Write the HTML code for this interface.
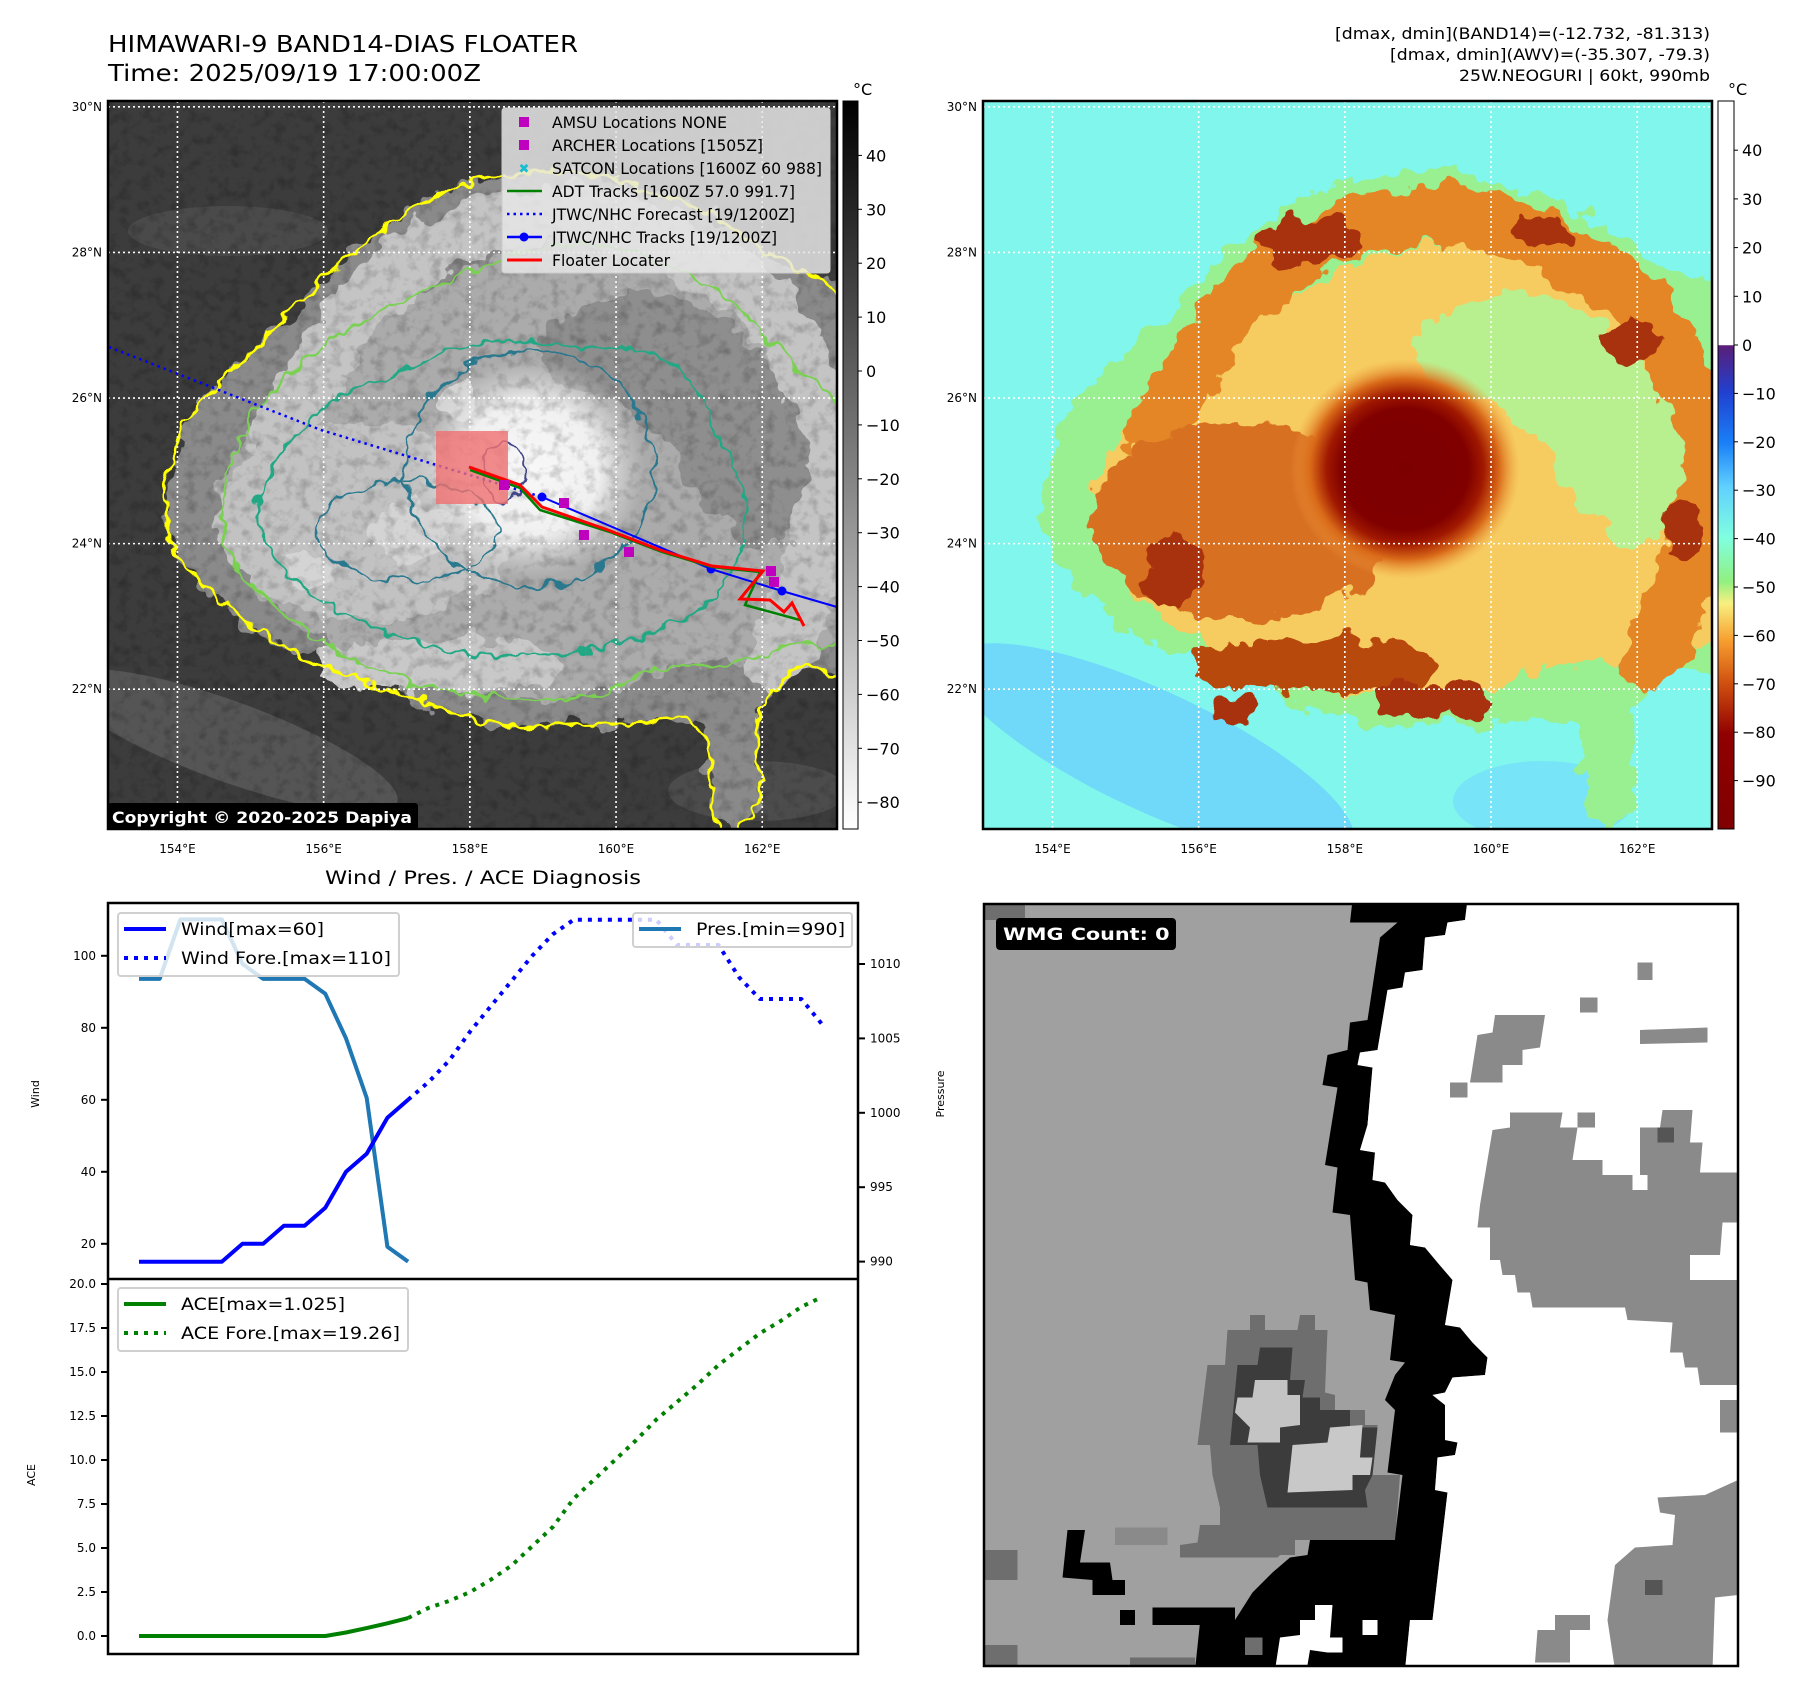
<!DOCTYPE html>
<html><head><meta charset="utf-8"><title>HIMAWARI-9 BAND14 Floater</title>
<style>
html,body{margin:0;padding:0;background:#fff;}
body{width:1801px;height:1690px;overflow:hidden;font-family:"DejaVu Sans","Liberation Sans",sans-serif;}
svg text{font-family:"DejaVu Sans","Liberation Sans",sans-serif;}
</style></head>
<body>
<svg id="page" xmlns="http://www.w3.org/2000/svg" width="1801" height="1690" viewBox="0 0 1801 1690">
<defs>
  <filter id="rough" x="-10%" y="-10%" width="120%" height="120%">
    <feTurbulence type="fractalNoise" baseFrequency="0.035" numOctaves="3" seed="7" result="n"/>
    <feDisplacementMap in="SourceGraphic" in2="n" scale="34" xChannelSelector="R" yChannelSelector="G"/>
  </filter>
  <filter id="rough2" x="-10%" y="-10%" width="120%" height="120%">
    <feTurbulence type="fractalNoise" baseFrequency="0.06" numOctaves="2" seed="3" result="n"/>
    <feDisplacementMap in="SourceGraphic" in2="n" scale="18" xChannelSelector="R" yChannelSelector="G"/>
  </filter>
  <filter id="grain" x="0" y="0" width="100%" height="100%">
    <feTurbulence type="fractalNoise" baseFrequency="0.09" numOctaves="3" seed="11"/>
    <feColorMatrix type="matrix" values="0 0 0 0 0  0 0 0 0 0  0 0 0 0 0  1.6 0 0 0 -0.75"/>
  </filter>
  <radialGradient id="coreGray">
    <stop offset="0" stop-color="#f8f8f8"/><stop offset="0.6" stop-color="#f0f0f0"/><stop offset="1" stop-color="#d8d8d8" stop-opacity="0"/>
  </radialGradient>
  <radialGradient id="coreRed">
    <stop offset="0" stop-color="#7d0000"/><stop offset="0.55" stop-color="#800000"/><stop offset="0.68" stop-color="#a01800"/><stop offset="0.82" stop-color="#d86818"/><stop offset="1" stop-color="#f0a040" stop-opacity="0"/>
  </radialGradient>
  <linearGradient id="cbGray" x1="0" y1="0" x2="0" y2="1">
    <stop offset="0" stop-color="#000"/><stop offset="1" stop-color="#fff"/>
  </linearGradient>
  <linearGradient id="cbColor" x1="0" y1="0" x2="0" y2="1">
    <stop offset="0" stop-color="#ffffff"/><stop offset="0.335" stop-color="#ffffff"/>
    <stop offset="0.336" stop-color="#5a1e78"/><stop offset="0.4" stop-color="#2040d0"/>
    <stop offset="0.47" stop-color="#1a80f8"/><stop offset="0.53" stop-color="#60d0ff"/>
    <stop offset="0.6" stop-color="#80ffe0"/><stop offset="0.66" stop-color="#90f080"/>
    <stop offset="0.69" stop-color="#f8f080"/><stop offset="0.74" stop-color="#f8a030"/>
    <stop offset="0.8" stop-color="#d05010"/><stop offset="0.87" stop-color="#900000"/>
    <stop offset="1" stop-color="#800000"/>
  </linearGradient>
  <clipPath id="clipL"><rect x="0" y="0" width="729" height="728"/></clipPath>
  <clipPath id="clipW"><rect x="8" y="8" width="1508" height="1524"/></clipPath>
</defs>

<text x="108" y="52" font-size="23" textLength="470" lengthAdjust="spacingAndGlyphs">HIMAWARI-9 BAND14-DIAS FLOATER</text>
<text x="108" y="81" font-size="23" textLength="373" lengthAdjust="spacingAndGlyphs">Time: 2025/09/19 17:00:00Z</text>
<g font-size="16" text-anchor="end">
  <text x="1710" y="39" textLength="375" lengthAdjust="spacingAndGlyphs">[dmax, dmin](BAND14)=(-12.732, -81.313)</text>
  <text x="1710" y="60" textLength="320" lengthAdjust="spacingAndGlyphs">[dmax, dmin](AWV)=(-35.307, -79.3)</text>
  <text x="1710" y="81" textLength="251" lengthAdjust="spacingAndGlyphs">25W.NEOGURI | 60kt, 990mb</text>
</g>

<g id="mapL" transform="translate(108,101)"></g>
<g id="mapR" transform="translate(983,101)"></g>
<g id="cbars"></g>
<g id="charts"></g>
<g id="wmg" transform="translate(980,900) scale(0.5)"></g>
</svg>

<script>
// ---------- chart data ----------
const windObs = [15,15,15,15,15,20,20,25,25,30,40,45,55,60];
const windFore = [60,65,71,79,86,93,100,106,110,110,110,110,110,103,103,103,94,88,88,88,81];
const presObs = [1009,1009,1013,1013,1013,1010,1009,1009,1009,1008,1005,1001,991,990];
const aceObs = [0,0,0,0,0,0,0,0,0,0,0.2,0.45,0.72,1.025];
const aceFore = [1.025,1.6,2.0,2.5,3.2,4.0,5.1,6.2,7.8,8.9,10.0,11.1,12.3,13.3,14.3,15.4,16.3,17.2,17.9,18.7,19.26];
const windTicks = [20,40,60,80,100];
const presTicks = [990,995,1000,1005,1010];
const aceTicks = [0,2.5,5,7.5,10,12.5,15,17.5,20];
const bandTicks = [40,30,20,10,0,-10,-20,-30,-40,-50,-60,-70,-80];
const awvTicks = [40,30,20,10,0,-10,-20,-30,-40,-50,-60,-70,-80,-90];
const lonTicks = [154,156,158,160,162];
const latTicks = [22,24,26,28,30];

const NS = "http://www.w3.org/2000/svg";
function mk(tag, attrs, parent){
  const e = document.createElementNS(NS, tag);
  for (const k in attrs) e.setAttribute(k, attrs[k]);
  if (parent) parent.appendChild(e);
  return e;
}
function txt(s, attrs, parent){ const t = mk('text', attrs, parent); t.textContent = s; return t; }

const NSTEP = 33;
const xS = i => 139 + i * (822 - 139) / NSTEP;
const yW = v => 1315.8 - v * 3.6;
const yP = p => 964 + (1010 - p) * 14.88;
const yA = a => 1636 - a * 17.6;
const lonX = lon => (lon - 153.05) * 73.1;
const latY = lat => (30.08 - lat) * 72.8;
const cbL = v => 371 - v * 5.39;
const cbR = v => v >= 0 ? 345 - v * 4.87 : 345 - v * 4.84;

function smooth(pts){
  let d = "M" + pts[0][0] + "," + pts[0][1];
  const n = pts.length;
  for (let i = 0; i < n; i++){
    const p0 = pts[(i-1+n)%n], p1 = pts[i], p2 = pts[(i+1)%n], p3 = pts[(i+2)%n];
    const c1 = [p1[0]+(p2[0]-p0[0])/6, p1[1]+(p2[1]-p0[1])/6];
    const c2 = [p2[0]-(p3[0]-p1[0])/6, p2[1]-(p3[1]-p1[1])/6];
    d += "C"+c1[0].toFixed(1)+","+c1[1].toFixed(1)+" "+c2[0].toFixed(1)+","+c2[1].toFixed(1)+" "+p2[0]+","+p2[1];
  }
  return d + "Z";
}
function openSmooth(pts){
  let d = "M" + pts[0][0] + "," + pts[0][1];
  for (let i = 0; i < pts.length-1; i++){
    const p0 = pts[Math.max(i-1,0)], p1 = pts[i], p2 = pts[i+1], p3 = pts[Math.min(i+2,pts.length-1)];
    const c1 = [p1[0]+(p2[0]-p0[0])/6, p1[1]+(p2[1]-p0[1])/6];
    const c2 = [p2[0]-(p3[0]-p1[0])/6, p2[1]-(p3[1]-p1[1])/6];
    d += "C"+c1[0].toFixed(1)+","+c1[1].toFixed(1)+" "+c2[0].toFixed(1)+","+c2[1].toFixed(1)+" "+p2[0]+","+p2[1];
  }
  return d;
}
const OUTER = [[60,430],[75,330],[150,245],[230,165],[330,95],[440,70],[560,95],[665,155],[745,230],[750,545],[690,565],[650,620],[650,705],[610,725],[590,625],[500,625],[400,625],[300,595],[195,555],[100,490]];
const INNER = [[115,400],[150,310],[230,235],[330,185],[420,150],[520,150],[620,200],[690,270],[745,330],[745,525],[680,545],[620,565],[560,565],[480,595],[380,595],[280,575],[190,525],[130,465]];
const TEAL = [[150,400],[200,320],[290,270],[380,240],[470,245],[560,260],[610,330],[640,420],[600,500],[520,540],[420,555],[320,545],[230,510],[170,460]];
const LANE = [[440,230],[545,190],[650,250],[700,350],[670,440],[600,410],[540,320],[460,290]];
const NBAND = [[170,330],[250,210],[340,140],[470,115],[600,160],[690,250],[715,370],[700,480],[665,560]];

function buildMap(g, pal, isGray){
  mk('rect',{x:0,y:0,width:729,height:728,fill:pal.bg},g);
  const body = mk('g',{'clip-path':'url(#clipL)'},g);
  pal.extra.forEach(e => mk('ellipse',e,body));
  const fills = mk('g',{filter:'url(#rough)'},body);
  mk('path',{d:smooth(OUTER),fill:pal.outer},fills);
  mk('path',{d:smooth(INNER),fill:pal.inner},fills);
  mk('path',{d:openSmooth(NBAND),fill:'none',stroke:pal.band,'stroke-width':60,'stroke-linecap':'round'},fills);
  mk('ellipse',{cx:260,cy:420,rx:150,ry:100,fill:pal.west},fills);
  mk('ellipse',{cx:330,cy:565,rx:125,ry:28,fill:pal.south},fills);
  mk('path',{d:smooth(LANE),fill:pal.lane},fills);
  pal.spots.forEach(s => mk('ellipse',{cx:s[0],cy:s[1],rx:s[2],ry:s[3],fill:pal.spot},fills));
  mk('ellipse',{cx:422,cy:368,rx:115,ry:110,fill:pal.coreFill},body);
  if (pal.grain > 0) mk('rect',{x:0,y:0,width:729,height:728,filter:'url(#grain)',opacity:pal.grain},body);
  if (isGray){
    const c = mk('g',{filter:'url(#rough2)',fill:'none'},body);
    mk('path',{d:smooth(OUTER),stroke:'#ffff00','stroke-width':3},c);
    mk('path',{d:smooth(INNER),stroke:'#7ad151','stroke-width':2.5},c);
    mk('path',{d:smooth(TEAL),stroke:'#22a884','stroke-width':2.5},c);
    mk('ellipse',{cx:422,cy:368,rx:125,ry:118,stroke:'#2a788e','stroke-width':2.5},c);
    mk('ellipse',{cx:300,cy:430,rx:90,ry:50,stroke:'#2a788e','stroke-width':2},c);
    mk('ellipse',{cx:395,cy:370,rx:22,ry:30,stroke:'#414487','stroke-width':2},c);
  }
  lonTicks.forEach(lon => {
    const l = mk('line',{x1:lonX(lon),x2:lonX(lon),y1:0,y2:728,stroke:'#fff','stroke-width':1.6,'stroke-dasharray':'2,3'},g);
    
    
  });
  latTicks.forEach(lat => {
    const l = mk('line',{x1:0,x2:729,y1:latY(lat),y2:latY(lat),stroke:'#fff','stroke-width':1.6,'stroke-dasharray':'2,3'},g);
    
    
  });
  lonTicks.forEach(lon => {
    const t = txt(lon+'°E',{x:lonX(lon),y:752,'font-size':12,'text-anchor':'middle'},g);
    
    
  });
  latTicks.forEach(lat => {
    const t = txt(lat+'°N',{x:-6,y:latY(lat)+4,'font-size':12,'text-anchor':'end'},g);
    
    
  });
}

const gL = document.getElementById('mapL');
buildMap(gL,{bg:'#3c3c3c',outer:'#8a8a8a',inner:'#ababab',band:'#c4c4c4',west:'#c2c2c2',south:'#c8c8c8',lane:'#8e8e8e',spot:'#d4d4d4',coreFill:'url(#coreGray)',grain:0.3,
  spots:[[300,430,40,30],[200,470,30,20],[350,300,20,15]],
  extra:[{cx:120,cy:640,rx:180,ry:40,fill:'#555',transform:'rotate(20 120 640)'},{cx:120,cy:130,rx:100,ry:25,fill:'#4a4a4a'},{cx:650,cy:690,rx:90,ry:30,fill:'#4c4c4c'}]}, true);

(function(){
  const g = gL;
  const P = (x,y)=>[x-108,y-101];
  const fc = [P(109,347),P(321,430),P(542,497)];
  mk('polyline',{points:fc.map(p=>p.join(',')).join(' '),fill:'none',stroke:'#0000ff','stroke-width':2.5,'stroke-dasharray':'2.5,4'},g);
  const tr = [P(542,497),P(711,569),P(782,591),P(837,607)];
  mk('polyline',{points:tr.map(p=>p.join(',')).join(' '),fill:'none',stroke:'#0000ff','stroke-width':2},g);
  [[542,497],[711,569],[782,591]].forEach(p=>mk('circle',{cx:p[0]-108,cy:p[1]-101,r:4.5,fill:'#0000ff'},g));
  mk('rect',{x:436-108,y:431-101,width:72,height:73,fill:'#f07070','fill-opacity':0.8},g);
  const adt = [P(470,470),P(520,488),P(540,510),P(610,532),P(662,552),P(712,567),P(760,572),P(745,605),P(800,620)];
  mk('polyline',{points:adt.map(p=>p.join(',')).join(' '),fill:'none',stroke:'#008000','stroke-width':2.5},g);
  const fl = [P(469,467),P(520,485),P(542,507),P(608,530),P(660,550),P(712,566),P(763,571),P(740,599),P(770,600),P(784,612),P(792,603),P(804,626)];
  mk('polyline',{points:fl.map(p=>p.join(',')).join(' '),fill:'none',stroke:'#ff0000','stroke-width':3},g);
  [[504,485],[564,503],[584,535],[629,552],[771,571],[774,582]].forEach(p=>mk('rect',{x:p[0]-108-5,y:p[1]-101-5,width:10,height:10,fill:'#bf00bf'},g));
  mk('rect',{x:0,y:702,width:310,height:27,rx:3,fill:'#000'},g);
  const c = txt('Copyright © 2020-2025 Dapiya',{x:4,y:722,'font-size':16,'font-weight':'bold',fill:'#fff',textLength:300,lengthAdjust:'spacingAndGlyphs'},g);
  
  
  const lg = mk('g',{},g);
  
  
  mk('rect',{x:394,y:7,width:328,height:165,rx:3,fill:'#e6e6e6','fill-opacity':0.85,stroke:'#cccccc'},lg);
  const rows = ['AMSU Locations NONE','ARCHER Locations [1505Z]','SATCON Locations [1600Z 60 988]','ADT Tracks [1600Z 57.0 991.7]','JTWC/NHC Forecast [19/1200Z]','JTWC/NHC Tracks [19/1200Z]','Floater Locater'];
  const widths = [175,211,270,243,243,225,118];
  rows.forEach((r,i)=>{
    const y = 21 + i*23;
    const mx = 416;
    if (i<2) mk('rect',{x:mx-5,y:y-5,width:10,height:10,fill:'#bf00bf'},lg);
    else if (i==2){ txt('✖',{x:mx,y:y+5,'font-size':13,'text-anchor':'middle',fill:'#17becf'},lg); }
    else if (i==3) mk('line',{x1:399,x2:434,y1:y,y2:y,stroke:'#008000','stroke-width':2.5},lg);
    else if (i==4) mk('line',{x1:399,x2:434,y1:y,y2:y,stroke:'#0000ff','stroke-width':2.5,'stroke-dasharray':'2.5,4'},lg);
    else if (i==5){ mk('line',{x1:399,x2:434,y1:y,y2:y,stroke:'#0000ff','stroke-width':2.5},lg); mk('circle',{cx:mx,cy:y,r:4.5,fill:'#0000ff'},lg); }
    else mk('line',{x1:399,x2:434,y1:y,y2:y,stroke:'#ff0000','stroke-width':3},lg);
    const t = txt(r,{x:444,y:y+6,'font-size':16,textLength:widths[i],lengthAdjust:'spacingAndGlyphs'},lg);
    
    
  });
  mk('rect',{x:0,y:0,width:729,height:728,fill:'none',stroke:'#000','stroke-width':2.5},g);
})();

const gR = document.getElementById('mapR');
buildMap(gR,{bg:'#80f6ec',outer:'#98f090',inner:'#f6cc60',band:'#e48628',west:'#d87020',south:'#b84a10',lane:'#b8f090',spot:'#a83008',coreFill:'url(#coreRed)',grain:0,
  spots:[[330,140,50,25],[190,470,30,40],[450,600,60,22],[250,610,20,15],[700,430,20,25],[650,240,25,20],[560,130,30,15]],
  extra:[{cx:170,cy:650,rx:220,ry:60,fill:'#70d8f8',transform:'rotate(25 170 650)'},{cx:560,cy:700,rx:90,ry:40,fill:'#78e4f8'}]}, false);
mk('rect',{x:0,y:0,width:729,height:728,fill:'none',stroke:'#000','stroke-width':2.5},gR);

(function(){
  const g = document.getElementById('cbars');
  const l = mk('rect',{x:843,y:101,width:15,height:728,fill:'url(#cbGray)',stroke:'#000','stroke-width':1},g);
  
  
  bandTicks.forEach(v=>{
    mk('line',{x1:858,x2:862,y1:cbL(v),y2:cbL(v),stroke:'#000'},g);
    const t = txt(String(v).replace('-','−'),{x:866,y:cbL(v)+6,'font-size':16},g);
    
    
  });
  txt('°C',{x:853,y:95,'font-size':16},g);
  const r = mk('rect',{x:1718,y:101,width:16,height:728,fill:'url(#cbColor)',stroke:'#000','stroke-width':1},g);
  
  
  awvTicks.forEach(v=>{
    mk('line',{x1:1734,x2:1738,y1:cbR(v),y2:cbR(v),stroke:'#000'},g);
    const t = txt(String(v).replace('-','−'),{x:1742,y:cbR(v)+6,'font-size':16},g);
    
    
  });
  txt('°C',{x:1728,y:95,'font-size':16},g);
})();

(function(){
  const g = document.getElementById('charts');
  const t0 = txt('Wind / Pres. / ACE Diagnosis',{x:483,y:884,'font-size':19,'text-anchor':'middle',textLength:316,lengthAdjust:'spacingAndGlyphs'},g);
  
  
  mk('rect',{x:108,y:903,width:750,height:751,fill:'#fff',stroke:'#000','stroke-width':2.5},g);
  mk('line',{x1:108,x2:858,y1:1279,y2:1279,stroke:'#000','stroke-width':2.5},g);
  windTicks.forEach(v=>{
    mk('line',{x1:101,x2:108,y1:yW(v),y2:yW(v),stroke:'#000','stroke-width':2},g);
    const t = txt(v,{x:96,y:yW(v)+4,'font-size':12,'text-anchor':'end'},g);
    
    
  });
  presTicks.forEach(v=>{
    mk('line',{x1:858,x2:865,y1:yP(v),y2:yP(v),stroke:'#000','stroke-width':2},g);
    const t = txt(v,{x:870,y:yP(v)+4,'font-size':12},g);
    
    
  });
  aceTicks.forEach(v=>{
    mk('line',{x1:101,x2:108,y1:yA(v),y2:yA(v),stroke:'#000','stroke-width':2},g);
    const t = txt(v.toFixed(1),{x:96,y:yA(v)+4,'font-size':12,'text-anchor':'end'},g);
    
    
  });
  const yl1 = txt('Wind',{x:0,y:0,'font-size':11,'text-anchor':'middle',transform:'translate(39,1094) rotate(-90)'},g);
  
  
  const yl2 = txt('Pressure',{x:0,y:0,'font-size':11,'text-anchor':'middle',transform:'translate(944,1094) rotate(-90)'},g);
  
  
  const yl3 = txt('ACE',{x:0,y:0,'font-size':11,'text-anchor':'middle',transform:'translate(35,1475) rotate(-90)'},g);
  
  

  const obsN = windObs.length - 1;
  const line = (arr, off, yf, attrs) => mk('polyline', Object.assign({points: arr.map((v,i)=>xS(i+off).toFixed(1)+','+yf(v).toFixed(1)).join(' '), fill:'none','stroke-linejoin':'round'}, attrs), g);
  const wf = line(windFore, obsN, yW, {stroke:'#0000ff','stroke-width':4,'stroke-dasharray':'4,6'});
  
  
  const pl = line(presObs, 0, yP, {stroke:'#1f77b4','stroke-width':4});
  
  
  const wl = line(windObs, 0, yW, {stroke:'#0000ff','stroke-width':4});
  
  
  const af = line(aceFore, obsN, yA, {stroke:'#008000','stroke-width':4,'stroke-dasharray':'4,6'});
  
  
  const al = line(aceObs, 0, yA, {stroke:'#008000','stroke-width':4});
  
  

  function legend(x,y,w,h,items,name){
    const lg = mk('g',{},g);
    
    
    mk('rect',{x:x,y:y,width:w,height:h,rx:3,fill:'#fff','fill-opacity':0.8,stroke:'#d0d0d0','stroke-width':2},lg);
    items.forEach((it,i)=>{
      const yy = y + 16 + i*29;
      const ln = mk('line',{x1:x+6,x2:x+48,y1:yy,y2:yy,stroke:it[1],'stroke-width':4},lg);
      if (it[2]) ln.setAttribute('stroke-dasharray','4,6');
      const t = txt(it[0],{x:x+63,y:yy+6,'font-size':17,textLength:it[3],lengthAdjust:'spacingAndGlyphs'},lg);
      
      
    });
  }
  legend(118,913,281,63,[['Wind[max=60]','#0000ff',false,143],['Wind Fore.[max=110]','#0000ff',true,210]],'wind-legend');
  legend(633,913,219,34,[['Pres.[min=990]','#1f77b4',false,149]],'pressure-legend');
  legend(118,1288,290,63,[['ACE[max=1.025]','#008000',false,164],['ACE Fore.[max=19.26]','#008000',true,219]],'ace-legend');
})();

(function(){
  const g = document.getElementById('wmg');
  const b = mk('g',{'clip-path':'url(#clipW)'},g);
  const poly = (pts, fill) => mk('polygon',{points:pts.map(p=>p.join(',')).join(' '),fill:fill},b);
  mk('rect',{x:0,y:0,width:1560,height:1540,fill:'#a0a0a0'},b);
  const blackL = [[745,0],[740,45],[835,45],[800,75],[775,240],[740,245],[735,300],[695,310],[685,370],[715,375],[690,530],[715,535],[705,625],[740,630],[750,760],[775,765],[780,820],[830,830],[820,920],[850,925],[830,950],[810,1000],[830,1020],[815,1145],[845,1150],[830,1275],[660,1280],[655,1310],[620,1315],[585,1345],[545,1385],[510,1440],[440,1445],[430,1540]];
  const blackR = [[975,0],[970,40],[935,45],[930,70],[890,75],[885,140],[850,145],[845,175],[815,180],[795,300],[760,305],[755,330],[785,335],[775,450],[760,500],[790,505],[785,560],[810,565],[835,600],[865,630],[860,690],[890,695],[915,725],[945,760],[930,850],[960,855],[985,885],[1015,915],[1010,950],[945,955],[930,985],[905,990],[930,1010],[930,1080],[955,1085],[950,1110],[915,1115],[910,1180],[935,1185],[905,1440],[860,1440],[850,1540]];
  poly(blackL.concat(blackR.slice().reverse()),'#000');
  poly(blackR.concat([[1560,1540],[1560,0]]),'#fff');
  const G = '#8a8a8a';
  poly([[1315,125],[1345,125],[1345,160],[1315,160]],G);
  poly([[1200,195],[1235,195],[1235,225],[1200,225]],G);
  poly([[1030,230],[1130,230],[1120,295],[1085,300],[1085,330],[1045,330],[1045,365],[980,365],[995,270],[1025,265]],G);
  poly([[940,365],[975,365],[975,395],[940,395]],G);
  poly([[1320,260],[1455,255],[1455,285],[1320,288]],G);
  poly([[1060,425],[1165,425],[1160,455],[1195,455],[1185,520],[1245,520],[1245,550],[1320,550],[1320,455],[1360,455],[1365,420],[1425,420],[1420,485],[1445,485],[1440,545],[1516,545],[1516,645],[1485,645],[1480,710],[1420,710],[1420,760],[1516,760],[1516,970],[1440,970],[1435,935],[1410,935],[1405,905],[1380,905],[1385,845],[1295,840],[1290,815],[1105,815],[1100,785],[1075,785],[1070,750],[1045,750],[1040,720],[1020,720],[1020,655],[995,655],[1000,610],[1025,460],[1060,455]],G);
  poly([[1195,425],[1230,425],[1230,455],[1195,455]],G);
  poly([[1305,550],[1335,550],[1335,580],[1305,580]],'#fff');
  poly([[1355,455],[1388,455],[1388,485],[1355,485]],'#555');
  poly([[1516,1160],[1516,1390],[1470,1395],[1465,1540],[1270,1540],[1255,1440],[1270,1330],[1310,1295],[1385,1290],[1390,1230],[1360,1225],[1355,1195],[1450,1190]],G);
  poly([[1330,1360],[1365,1360],[1365,1390],[1330,1390]],'#555');
  poly([[1480,1000],[1516,1000],[1516,1065],[1480,1065]],G);
  poly([[1150,1430],[1220,1430],[1220,1460],[1180,1460],[1180,1525],[1110,1525],[1115,1460],[1150,1460]],G);
  const D = '#6e6e6e';
  poly([[540,830],[570,830],[570,860],[635,860],[640,830],[670,830],[670,860],[695,860],[690,985],[710,990],[710,1020],[770,1020],[770,1050],[795,1050],[785,1150],[840,1150],[830,1280],[630,1280],[630,1310],[600,1310],[595,1315],[400,1315],[400,1290],[435,1285],[440,1250],[480,1250],[480,1215],[465,1150],[460,1090],[435,1090],[455,930],[490,930],[495,860],[540,860]],D);
  poly([[560,895],[625,895],[620,960],[650,960],[645,995],[680,995],[680,1020],[740,1020],[740,1055],[795,1055],[785,1150],[770,1180],[775,1215],[575,1215],[560,1150],[555,1090],[500,1090],[515,930],[555,930]],'#3c3c3c');
  poly([[550,960],[615,960],[615,990],[640,990],[640,1050],[600,1055],[600,1085],[535,1085],[540,1055],[510,1025],[515,995],[545,995]],'#c4c4c4');
  poly([[700,1055],[765,1050],[760,1115],[785,1115],[780,1150],[745,1150],[745,1180],[615,1185],[625,1090],[695,1085]],'#c8c8c8');
  poly([[175,1260],[210,1260],[200,1325],[260,1325],[265,1360],[290,1360],[290,1390],[225,1390],[225,1360],[165,1355]],'#000');
  poly([[280,1420],[310,1420],[310,1450],[280,1450]],'#000');
  poly([[345,1415],[510,1415],[510,1450],[345,1450]],'#000');
  poly([[10,1300],[75,1300],[75,1360],[10,1360]],D);
  poly([[270,1255],[375,1255],[375,1290],[270,1290]],'#8a8a8a');
  poly([[0,0],[90,0],[90,40],[0,40]],D);
  poly([[0,1490],[75,1490],[75,1540],[0,1540]],D);
  poly([[300,1515],[430,1515],[430,1540],[300,1540]],D);
  poly([[530,1475],[565,1475],[565,1510],[530,1510]],D);
  poly([[670,1410],[705,1410],[700,1475],[725,1475],[725,1505],[695,1505],[660,1500],[655,1530],[590,1540],[600,1475],[640,1470],[640,1440],[670,1440]],'#fff');
  poly([[765,1440],[795,1440],[795,1470],[765,1470]],'#fff');
  mk('rect',{x:8,y:8,width:1508,height:1524,fill:'none',stroke:'#000','stroke-width':5},g);
  mk('rect',{x:32,y:36,width:360,height:64,rx:8,fill:'#000'},g);
  const t = txt('WMG Count: 0',{x:46,y:80,'font-size':34,'font-weight':'bold',fill:'#fff',textLength:333,lengthAdjust:'spacingAndGlyphs'},g);
  
  
})();
</script>
</body></html>
